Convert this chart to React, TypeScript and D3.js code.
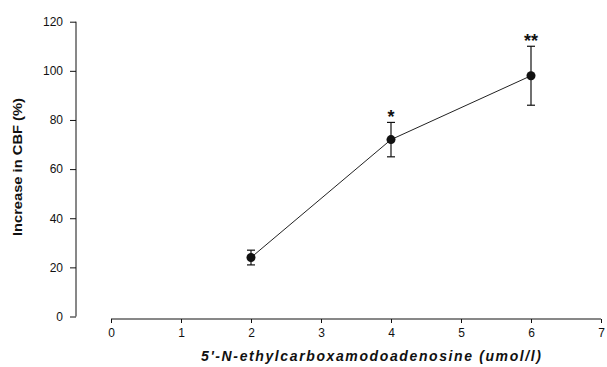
import { useEffect, useRef } from 'react';
import { select, scaleLinear, axisLeft, axisBottom, line, format } from 'd3';

const doses = [2, 4, 6];
const cbfIncrease = [24, 72, 98];
const cbfError = [3, 7, 12];
const significance = ['', '*', '**'];
const xTicks = [0, 1, 2, 3, 4, 5, 6, 7];
const yTicks = [0, 20, 40, 60, 80, 100, 120];

const App = () => {
  const svgRef = useRef<SVGSVGElement>(null);

  useEffect(() => {
    const width = 607;
    const height = 367;
    const svg = select(svgRef.current);
    svg.selectAll('*').remove();
    svg.attr('width', width).attr('height', height);

    const x = scaleLinear().domain([0, 7]).range([111, 601]);
    const y = scaleLinear().domain([0, 120]).range([316.5, 21.7]);
    const font = 'Liberation Sans, Arial, sans-serif';

    // y axis, kept apart from the x axis like the original
    const yAxis = svg
      .append('g')
      .attr('transform', 'translate(76,0)')
      .call(axisLeft(y).tickValues(yTicks).tickFormat(format('d')).tickSize(6).tickPadding(7));
    yAxis.select('.domain').attr('d', `M0,${y(120)}V${y(0)}`).attr('stroke', '#111');
    yAxis.selectAll('line').attr('stroke', '#111');
    yAxis.selectAll('text').attr('font-family', font).attr('font-size', 12).attr('fill', '#111');

    // x axis
    const xAxis = svg
      .append('g')
      .attr('transform', 'translate(0,319)')
      .call(axisBottom(x).tickValues(xTicks).tickFormat(format('d')).tickSize(4).tickPadding(5));
    xAxis.select('.domain').attr('d', `M${x(0)},0H${x(7)}`).attr('stroke', '#111');
    xAxis.selectAll('line').attr('stroke', '#111');
    xAxis.selectAll('text').attr('font-family', font).attr('font-size', 12).attr('fill', '#111');

    const data = doses.map((d, i) => ({
      dose: d,
      value: cbfIncrease[i],
      err: cbfError[i],
      sig: significance[i],
    }));

    // connecting line
    const lineGen = line<{ dose: number; value: number }>()
      .x((d) => x(d.dose))
      .y((d) => y(d.value));
    svg
      .append('path')
      .datum(data)
      .attr('d', lineGen)
      .attr('fill', 'none')
      .attr('stroke', '#222')
      .attr('stroke-width', 1);

    // error bars
    const eb = svg.append('g').attr('stroke', '#111').attr('stroke-width', 1.2);
    data.forEach((d) => {
      const cx = x(d.dose);
      const top = y(d.value + d.err);
      const bottom = y(d.value - d.err);
      eb.append('line').attr('x1', cx).attr('x2', cx).attr('y1', top).attr('y2', bottom);
      eb.append('line').attr('x1', cx - 4).attr('x2', cx + 4).attr('y1', top).attr('y2', top);
      eb.append('line').attr('x1', cx - 4).attr('x2', cx + 4).attr('y1', bottom).attr('y2', bottom);
    });

    // points
    svg
      .append('g')
      .selectAll('circle')
      .data(data)
      .enter()
      .append('circle')
      .attr('cx', (d) => x(d.dose))
      .attr('cy', (d) => y(d.value))
      .attr('r', 4.5)
      .attr('fill', '#111');

    // significance stars
    svg
      .append('g')
      .selectAll('text')
      .data(data)
      .enter()
      .append('text')
      .attr('x', (d) => x(d.dose))
      .attr('y', (d) => y(d.value + d.err) + 1)
      .attr('text-anchor', 'middle')
      .attr('font-family', font)
      .attr('font-weight', 'bold')
      .attr('font-size', 18)
      .attr('fill', '#111')
      .text((d) => d.sig);

    // axis titles
    svg
      .append('text')
      .attr('transform', `translate(22,${(y(0) + y(120)) / 2 - 2}) rotate(-90)`)
      .attr('text-anchor', 'middle')
      .attr('font-family', font)
      .attr('font-weight', 'bold')
      .attr('font-size', 13.5)
      .attr('textLength', 138)
      .attr('lengthAdjust', 'spacingAndGlyphs')
      .attr('fill', '#111')
      .text('Increase in CBF (%)');

    svg
      .append('text')
      .attr('x', 371)
      .attr('y', 361)
      .attr('text-anchor', 'middle')
      .attr('font-family', font)
      .attr('font-weight', 'bold')
      .attr('font-style', 'italic')
      .attr('font-size', 14)
      .attr('textLength', 340)
      .attr('lengthAdjust', 'spacing')
      .attr('fill', '#111')
      .text("5'-N-ethylcarboxamodoadenosine (umol/l)");
  }, []);

  return (
    <div style={{ position: 'absolute', left: 0, top: 0, background: '#fff' }}>
      <svg ref={svgRef} style={{ display: 'block' }}></svg>
    </div>
  );
};

export default App;
